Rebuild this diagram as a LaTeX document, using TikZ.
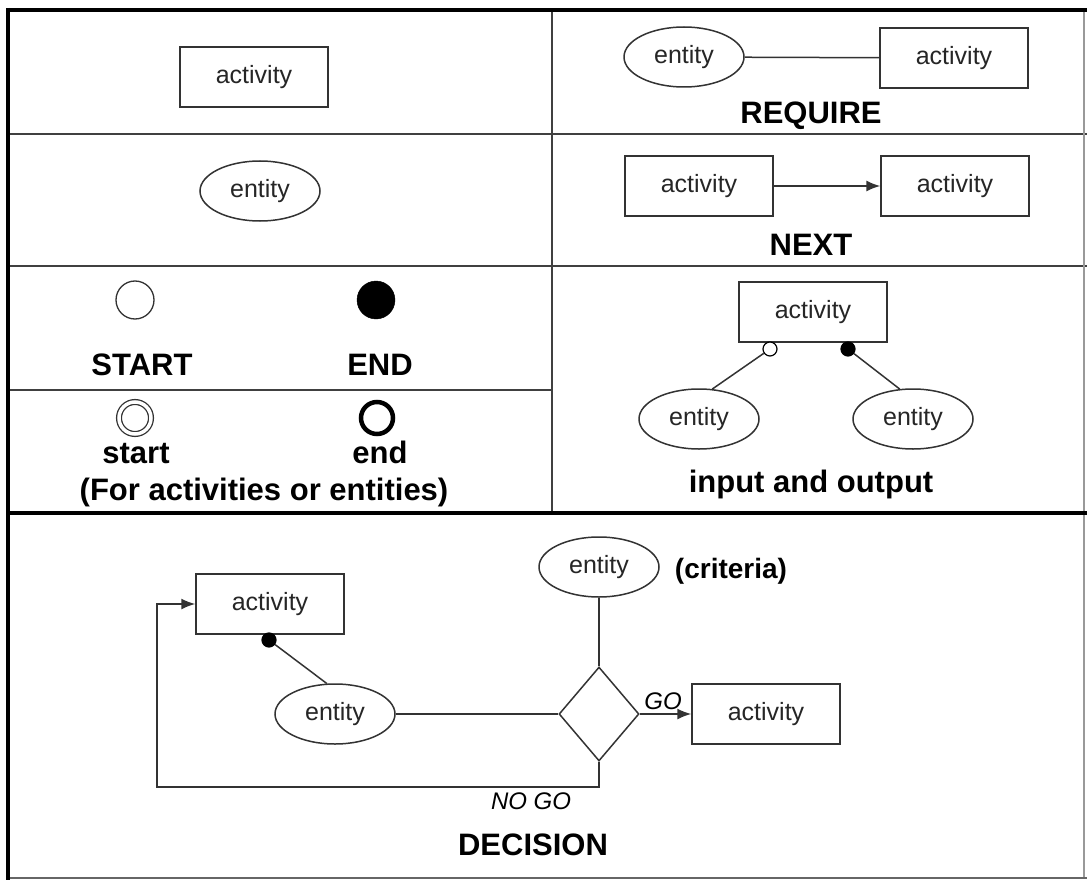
\documentclass[tikz,border=0pt]{standalone}
\usepackage{fontspec}
\setmainfont{Liberation Sans}
\usetikzlibrary{shapes.geometric,arrows.meta}

\begin{document}
\begin{tikzpicture}[x=1pt,y=-1pt,
    actbox/.style={draw=black!80,line width=1.5pt,minimum width=148pt,minimum height=60pt,inner sep=0pt,text=black!85,font=\fontsize{25}{30}\selectfont},
    entity/.style={ellipse,draw=black!80,line width=1.5pt,minimum width=120pt,minimum height=60pt,inner sep=0pt,text=black!85,font=\fontsize{25}{30}\selectfont},
    heading/.style={font=\fontsize{31}{36}\selectfont\bfseries,text height=23pt,text depth=7pt},
    pin/.style={circle,draw=black,line width=1.2pt,inner sep=0pt,minimum size=14pt},
    rule/.style={draw=black!75,line width=2pt},
    heavy/.style={draw=black,line width=4.5pt},
    link/.style={draw=black!80,line width=1.5pt},
    tip/.style={-{Latex[length=14pt,width=11pt]}}]

        \useasboundingbox[fill=white] (0,0) rectangle (1087,880);

        \draw[rule] (552,10) -- (552,513);
        \draw[rule] (8,134) -- (1087,134);
        \draw[rule] (8,266) -- (1087,266);
        \draw[rule] (8,390) -- (552,390);
        \draw[rule,draw=black!40] (1084,10) -- (1084,878);
        \draw[rule,draw=black!60] (8,878) -- (1087,878);
        \draw[heavy] (6,10) -- (1087,10);
        \draw[heavy] (8,8) -- (8,880);
        \draw[heavy] (8,513) -- (1087,513);

        \begin{scope}[every node/.style={heading}]
          \node (h1) at (811,116) {REQUIRE};
          \node (h2) at (811,247) {NEXT};
          \node (h3) at (142,367) {START};
          \node (h4) at (380,367) {END};
          \node (h5) at (136,455) {start};
          \node (h6) at (380,455) {end};
          \node (h7) at (264,492) {(For activities or entities)};
          \node (h8) at (811,484) {input and output};
          \node (h9) at (533,847) {DECISION};
          \node[font=\fontsize{28}{34}\selectfont\bfseries] (h10) at (731,570) {(criteria)};
        \end{scope}

        \node[actbox] (1) at (254,77)  {activity};
        \node[entity] (2) at (260,191) {entity};
        \node[entity] (3) at (684,57)  {entity};
        \node[actbox] (4) at (954,58)  {activity};
        \node[actbox] (5) at (699,186) {activity};
        \node[actbox] (6) at (955,186) {activity};

        \node[circle,draw=black!80,line width=1.3pt,minimum size=38pt] (7) at (135,300) {};
        \node[circle,draw=black,fill=black,minimum size=38pt] (8) at (376,300) {};
        \node[circle,draw=black!80,line width=1.3pt,double,double distance=3.5pt,minimum size=32pt] (9) at (135,418) {};
        \node[circle,draw=black,line width=4.5pt,minimum size=32pt] (10) at (377,418) {};

        \node[actbox] (11) at (813,312) {activity};
        \node[pin,fill=white] (12) at (770,349) {};
        \node[pin,fill=black] (13) at (848,349) {};
        \node[entity] (14) at (699,419) {entity};
        \node[entity] (15) at (913,419) {entity};

        \node[actbox] (16) at (270,604) {activity};
        \node[pin,fill=black] (17) at (269,640) {};
        \node[entity] (18) at (335,714) {entity};
        \node[entity] (19) at (599,567) {entity};
        \node[diamond,draw=black!80,line width=1.5pt,minimum width=80pt,minimum height=94pt,inner sep=0pt] (20) at (599,714) {};
        \node[actbox] (21) at (766,714) {activity};
        \node[font=\fontsize{24}{28}\selectfont\itshape] (22) at (663,701) {GO};
        \node[font=\fontsize{24}{28}\selectfont\itshape] (23) at (531,801) {NO GO};
        \coordinate (24) at (157,787);

        \begin{scope}[every path/.style={link}]
          \path (3) edge (4);
          \path (5) edge[tip] (6);
          \path (12) edge (14.66);
          \path (13) edge (15.114);
          \path (17) edge (18.105);
          \path (18) edge (20);
          \path (19) edge (20);
          \path (20) edge[tip] (21);
          \draw[tip] (20.south) |- (24) |- (16.west);
        \end{scope}

      \end{tikzpicture}
\end{document}
